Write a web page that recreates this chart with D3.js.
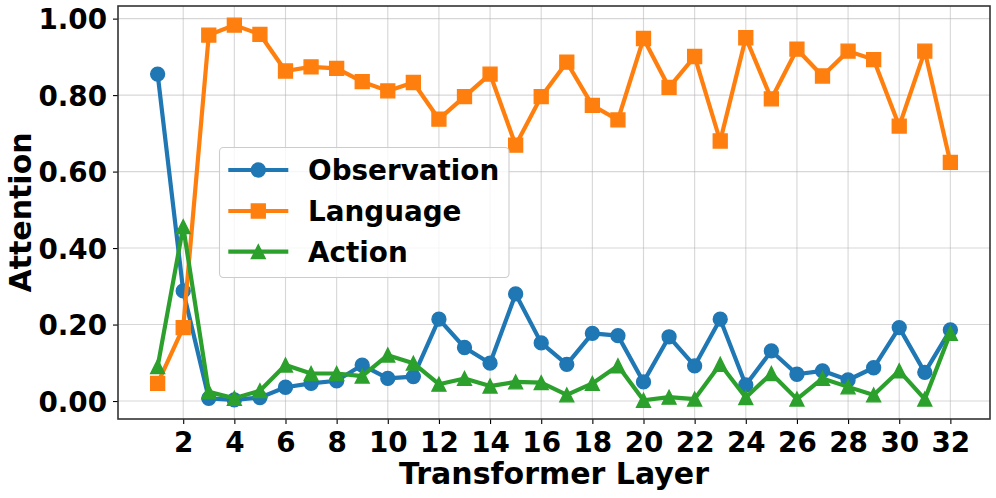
<!DOCTYPE html>
<html><head><meta charset="utf-8">
<script src="https://cdn.jsdelivr.net/npm/d3@7"></script>
<style>body{margin:0;background:#fff}svg{display:block}text{font-family:"DejaVu Sans",sans-serif;font-weight:bold}</style>
</head><body><svg id="c" width="996" height="498"></svg>
<script>
const layers = d3.range(1, 33);
const observation = [0.855,0.288,0.007,0.003,0.009,0.036,0.046,0.053,0.094,0.059,0.064,0.214,0.140,0.099,0.280,0.152,0.096,0.177,0.171,0.050,0.168,0.092,0.214,0.042,0.131,0.070,0.079,0.055,0.087,0.192,0.075,0.186];
const language = [0.046,0.192,0.957,0.983,0.959,0.863,0.874,0.870,0.835,0.811,0.833,0.737,0.796,0.855,0.669,0.796,0.886,0.773,0.735,0.948,0.820,0.901,0.680,0.950,0.790,0.920,0.850,0.915,0.893,0.719,0.915,0.624];
const action = [0.090,0.456,0.024,0.007,0.027,0.094,0.072,0.072,0.065,0.120,0.099,0.044,0.059,0.039,0.050,0.048,0.016,0.046,0.092,0.002,0.010,0.005,0.096,0.009,0.072,0.005,0.059,0.037,0.016,0.079,0.005,0.177];
const seriesNames = ["Observation", "Language", "Action"];
const seriesColors = ["#1f77b4", "#ff7f0e", "#2ca02c"];
const seriesMarkers = ["circle", "square", "triangle"];
const xTicks = d3.range(2, 33, 2);
const yTicks = [0, 0.2, 0.4, 0.6, 0.8, 1.0];

const series = [observation, language, action].map((v, i) => ({name: seriesNames[i], color: seriesColors[i], marker: seriesMarkers[i], values: v}));

const L = 118, R = 990, T = 6, B = 419;
const svg = d3.select("#c");
const x = d3.scaleLinear().domain([-0.55, 33.55]).range([L, R]);
const y = d3.scaleLinear().domain([-0.047, 1.033]).range([B, T]);

// grid
const g = svg.append("g");
g.selectAll(".gx").data(xTicks).join("line").attr("x1", d => x(d)).attr("x2", d => x(d)).attr("y1", T).attr("y2", B).attr("stroke", "#b0b0b0").attr("stroke-opacity", 0.5).attr("stroke-width", 1.1);
g.selectAll(".gy").data(yTicks).join("line").attr("y1", d => y(d)).attr("y2", d => y(d)).attr("x1", L).attr("x2", R).attr("stroke", "#b0b0b0").attr("stroke-opacity", 0.5).attr("stroke-width", 1.1);

// axes
const xAxis = d3.axisBottom(x).tickValues(xTicks).tickSize(5).tickPadding(8).tickFormat(d3.format("d"));
const yAxis = d3.axisLeft(y).tickValues(yTicks).tickSize(5).tickPadding(6).tickFormat(d3.format(".2f"));
const gx = svg.append("g").attr("transform", `translate(0,${B})`).call(xAxis);
const gy = svg.append("g").attr("transform", `translate(${L},0)`).call(yAxis);
[gx, gy].forEach(a => {
  a.select(".domain").remove();
  a.selectAll("line").attr("stroke", "#000").attr("stroke-width", 1.1);
  a.selectAll("text").attr("font-size", 27.8).attr("font-family", "DejaVu Sans").attr("font-weight", "bold").attr("fill", "#000");
});
gy.selectAll("text").attr("dy", "0.36em");

// frame
svg.append("rect").attr("x", L).attr("y", T).attr("width", R - L).attr("height", B - T).attr("fill", "none").attr("stroke", "#333").attr("stroke-width", 1.6);

// marker generator
const ms = 13.9;
function markerPath(type) {
  if (type === "circle") return d3.symbol(d3.symbolCircle, Math.PI * (ms / 2) ** 2)();
  if (type === "square") return `M${-ms/2},${-ms/2}H${ms/2}V${ms/2}H${-ms/2}Z`;
  return `M0,${-ms/2}L${ms/2},${ms/2}L${-ms/2},${ms/2}Z`;
}

const line = d3.line().x((d, i) => x(layers[i])).y(d => y(d));
series.forEach(s => {
  const sg = svg.append("g");
  sg.append("path").attr("d", line(s.values)).attr("fill", "none").attr("stroke", s.color).attr("stroke-width", 4.2).attr("stroke-linejoin", "round").attr("stroke-linecap", "butt");
  sg.selectAll("path.m").data(s.values).join("path").attr("class", "m")
    .attr("d", markerPath(s.marker))
    .attr("transform", (d, i) => `translate(${x(layers[i])},${y(d)})`)
    .attr("fill", s.color).attr("stroke", s.color).attr("stroke-width", 1.4);
});

// axis labels
svg.append("text").attr("x", (L + R) / 2).attr("y", 484).attr("text-anchor", "middle").attr("font-size", 30).text("Transformer Layer");
svg.append("text").attr("transform", `translate(31,${(T + B) / 2}) rotate(-90)`).attr("text-anchor", "middle").attr("font-size", 30).text("Attention");

// legend
const lg = svg.append("g");
lg.append("rect").attr("x", 219.5).attr("y", 147.5).attr("width", 289.5).attr("height", 130).attr("rx", 4).attr("fill", "#fff").attr("fill-opacity", 0.8).attr("stroke", "#cccccc").attr("stroke-width", 1.1);
const rowY = [170, 211, 251.7];
series.forEach((s, i) => {
  const r = lg.append("g").attr("transform", `translate(0,${rowY[i]})`);
  r.append("line").attr("x1", 228.3).attr("x2", 288.3).attr("stroke", s.color).attr("stroke-width", 4.2);
  r.append("path").attr("d", markerPath(s.marker)).attr("transform", "translate(258.3,0)").attr("fill", s.color).attr("stroke", s.color).attr("stroke-width", 1.4);
  r.append("text").attr("x", 308).attr("dy", "0.36em").attr("font-size", 27.8).text(s.name);
});
</script></body></html>
